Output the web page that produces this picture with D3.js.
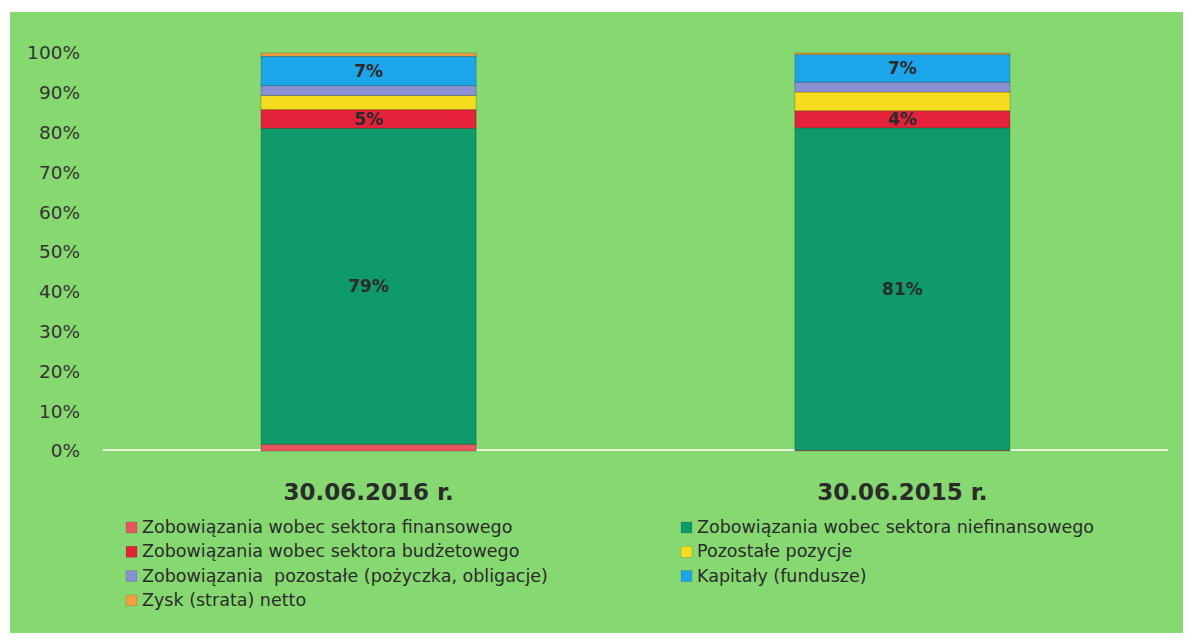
<!DOCTYPE html>
<html>
<head>
<meta charset="utf-8">
<script src="https://cdn.jsdelivr.net/npm/d3@7"></script>
<style>
  body { margin: 0; background: #fff; }
  svg { display: block; font-family: "DejaVu Sans", sans-serif; }
</style>
</head>
<body>
<div id="chart"></div>
<script>
// categories (bars) and series
var dates = ["30.06.2016 r.", "30.06.2015 r."];
var seriesNames = [
  "Zobowiązania wobec sektora finansowego",
  "Zobowiązania wobec sektora niefinansowego",
  "Zobowiązania wobec sektora budżetowego",
  "Pozostałe pozycje",
  "Zobowiązania  pozostałe (pożyczka, obligacje)",
  "Kapitały (fundusze)",
  "Zysk (strata) netto"
];
var seriesColors = ["#e8555e", "#0f9a6c", "#e5223a", "#f6dc1e", "#8b8fd4", "#1ca6ea", "#f0a040"];
// percentage shares per bar, in series order
var finansowy    = [1.7, 0.2];
var niefinansowy = [79.4, 81.0];
var budzetowy    = [4.7, 4.3];
var pozostalePoz = [3.5, 4.7];
var pozostaleZob = [2.5, 2.5];
var kapitaly     = [7.4, 6.9];
var zysk         = [0.8, 0.4];
// which series get a data label
var labelled = [1, 2, 5];
var yTicks = [0, 10, 20, 30, 40, 50, 60, 70, 80, 90, 100];

var allSeries = [finansowy, niefinansowy, budzetowy, pozostalePoz, pozostaleZob, kapitaly, zysk];

var W = 1190, H = 640;
var svg = d3.select("#chart").append("svg")
    .attr("width", W)
    .attr("height", H);

// green panel
svg.append("rect")
    .attr("x", 10).attr("y", 12)
    .attr("width", 1173).attr("height", 621)
    .attr("fill", "#86d970");

var margin = {left: 103, right: 22, top: 53, bottom: 189};
var plotW = W - margin.left - margin.right,
    plotH = H - margin.top - margin.bottom;

var g = svg.append("g")
    .attr("transform", "translate(" + margin.left + "," + margin.top + ")");

var table = dates.map(function(d, i) {
  var row = {date: d};
  seriesNames.forEach(function(s, k) { row[s] = allSeries[k][i]; });
  return row;
});

var stack = d3.stack().keys(seriesNames).offset(d3.stackOffsetExpand);
var layers = stack(table);

var x = d3.scaleBand()
    .domain(dates)
    .range([0, plotW])
    .paddingInner(0.597)
    .paddingOuter(0.296);

var y = d3.scaleLinear()
    .domain([0, 1])
    .range([plotH, 0]);

// y axis labels
var yAxis = g.append("g")
    .call(d3.axisLeft(y).tickValues(yTicks.map(function(t) { return t / 100; }))
      .tickFormat(function(d) { return Math.round(d * 100) + "%"; })
      .tickSize(0).tickPadding(23));
yAxis.select(".domain").remove();
yAxis.selectAll("text")
    .attr("fill", "#333")
    .style("font-size", "18.5px")
    .style("font-family", "DejaVu Sans, sans-serif");

// baseline
g.append("line")
    .attr("x1", 0).attr("x2", plotW)
    .attr("y1", y(0) - 1).attr("y2", y(0) - 1)
    .attr("stroke", "#e6f7d8")
    .attr("stroke-width", 2);

// bars
var layerG = g.selectAll(".layer")
  .data(layers)
  .enter().append("g")
    .attr("class", "layer")
    .attr("fill", function(d, i) { return seriesColors[i]; });

layerG.selectAll("rect")
  .data(function(d) { return d; })
  .enter().append("rect")
    .attr("x", function(d) { return x(d.data.date); })
    .attr("y", function(d) { return y(d[1]); })
    .attr("width", x.bandwidth())
    .attr("height", function(d) { return Math.max(0, y(d[0]) - y(d[1])); })
    .attr("stroke", "rgba(0,0,0,0.25)")
    .attr("stroke-width", 0.8);

// data labels
layers.forEach(function(layer, i) {
  if (labelled.indexOf(i) < 0) return;
  g.selectAll(".lbl" + i)
    .data(layer)
    .enter().append("text")
      .attr("x", function(d) { return x(d.data.date) + x.bandwidth() / 2; })
      .attr("y", function(d) { return (y(d[0]) + y(d[1])) / 2 + 6; })
      .attr("text-anchor", "middle")
      .attr("fill", "#2b2b2b")
      .style("font-size", "17px")
      .style("font-weight", "bold")
      .text(function(d, j) { return Math.round(allSeries[i][j]) + "%"; });
});

// x labels
g.selectAll(".xlab")
  .data(dates)
  .enter().append("text")
    .attr("x", function(d) { return x(d) + x.bandwidth() / 2; })
    .attr("y", plotH + 49)
    .attr("text-anchor", "middle")
    .attr("fill", "#2b2b2b")
    .style("font-size", "23px")
    .style("font-weight", "bold")
    .text(function(d) { return d; });

// legend in two columns
var legend = svg.append("g");
var legItems = legend.selectAll(".leg")
  .data(seriesNames)
  .enter().append("g")
    .attr("transform", function(d, i) {
      var col = i % 2, row = Math.floor(i / 2);
      return "translate(" + (col ? 681 : 126) + "," + (527 + row * 24.3) + ")";
    });
legItems.append("rect")
    .attr("x", 0).attr("y", -5)
    .attr("width", 11).attr("height", 11)
    .attr("fill", function(d, i) { return seriesColors[i]; })
    .attr("stroke", "rgba(0,0,0,0.2)")
    .attr("stroke-width", 0.6);
legItems.append("text")
    .attr("x", 16).attr("y", 6)
    .attr("fill", "#2b2b2b")
    .style("font-size", "17.5px")
    .style("white-space", "pre")
    .text(function(d) { return d; });
</script>
</body>
</html>
